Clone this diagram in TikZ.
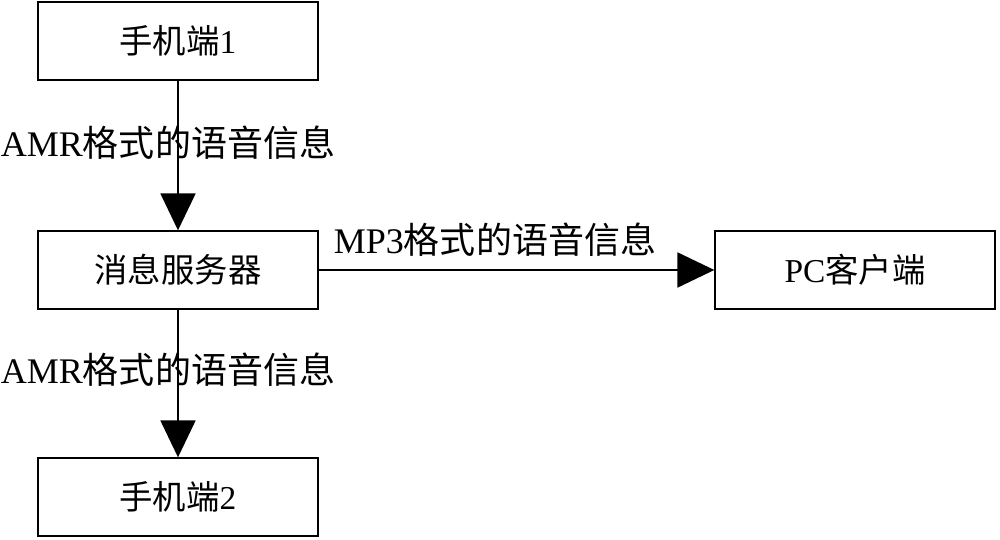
\documentclass[tikz,border=0pt]{standalone}
\usepackage{fontspec}
\setmainfont{Liberation Serif}
\newfontfamily\cjk{Noto Sans CJK SC}
\usetikzlibrary{arrows.meta}
\begin{document}
\begin{tikzpicture}[x=0.02cm,y=-0.02cm,
  box/.style={draw,line width=0.8pt,minimum width=280*0.02cm,minimum height=78*0.02cm,inner sep=0pt,font=\fontsize{19}{22}\selectfont},
  arr/.style={line width=0.8pt,-{Triangle[length=21pt,width=20pt]}},
  lab/.style={font=\fontsize{20.5}{24}\selectfont,inner sep=0pt}]
\useasboundingbox (0,0) rectangle (1000,540);
\node[box] (m1) at (178,41) {{\cjk 手机端}1};
\node[box] (srv) at (178,270) {{\cjk 消息服务器}};
\node[box] (pc) at (855,270) {PC{\cjk 客户端}};
\node[box] (m2) at (178,497) {{\cjk 手机端}2};
\draw[arr] (m1) -- (srv);
\draw[arr] (srv) -- (m2);
\draw[arr] (srv) -- (pc);
\node[lab] (l1) at (168,143) {AMR{\cjk 格式的语音信息}};
\node[lab] (l2) at (168,370) {AMR{\cjk 格式的语音信息}};
\node[lab] (l3) at (495,240) {MP3{\cjk 格式的语音信息}};
\end{tikzpicture}
\end{document}
